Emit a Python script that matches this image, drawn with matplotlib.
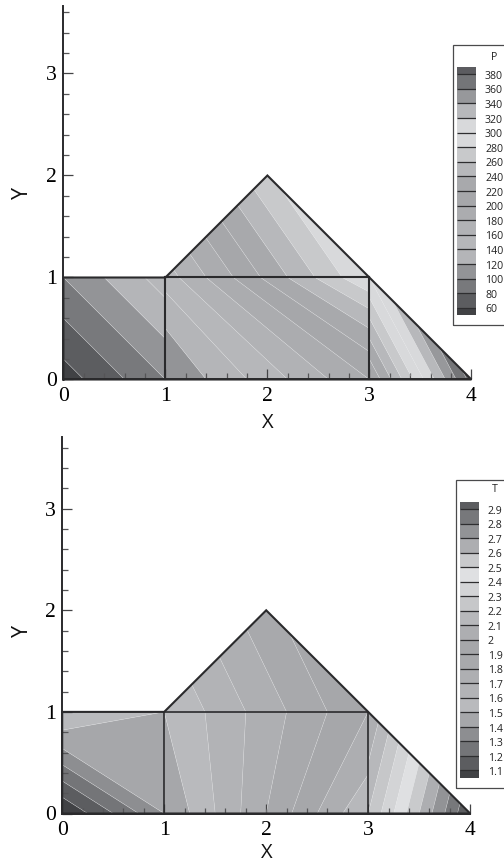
import numpy as np
import matplotlib
matplotlib.use("Agg")
import matplotlib.pyplot as plt
import matplotlib.tri as mtri
from matplotlib.patches import Rectangle
from matplotlib.ticker import MultipleLocator

W, H = 504, 867
DARK = "#2a2a2c"

# mesh nodes: triangular elements, plus one quadrilateral block (1..3 x 0..1)
node_x = [0, 1, 3, 4, 0, 1, 3, 2, 0]
node_y = [0, 0, 0, 0, 1, 1, 1, 2, 0.64]
mesh = [[0, 1, 8], [8, 1, 5], [8, 5, 4], [2, 3, 6], [5, 6, 7]]
quad_nodes = [1, 2, 5, 6]  # lower left, lower right, upper left, upper right

# nodal values
p_values = [50, 100, 200, 388, 100, 150, 300, 277, 82]
t_values = [1.0, 1.4, 2.2, 3.0, 1.6, 1.5, 2.0, 1.87, 1.4]

p_levels = [60, 80, 100, 120, 140, 160, 180, 200, 220, 240, 260, 280, 300, 320, 340, 360, 380]
p_labels = ["60", "80", "100", "120", "140", "160", "180", "200", "220", "240", "260",
            "280", "300", "320", "340", "360", "380"]
p_colors = ["#414245", "#5c5d60", "#78797c", "#939497", "#b4b5b8", "#b6b7ba", "#b1b2b5",
            "#abacaf", "#a6a7aa", "#a8a9ac", "#b7b8bb", "#c8c9cb", "#d8d9db", "#d8d9db",
            "#b7b8bb", "#97989b", "#747578", "#5c5c60"]

t_levels = [1.1, 1.2, 1.3, 1.4, 1.5, 1.6, 1.7, 1.8, 1.9, 2.0, 2.1, 2.2, 2.3, 2.4, 2.5, 2.6, 2.7, 2.8, 2.9]
t_labels = ["1.1", "1.2", "1.3", "1.4", "1.5", "1.6", "1.7", "1.8", "1.9", "2", "2.1",
            "2.2", "2.3", "2.4", "2.5", "2.6", "2.7", "2.8", "2.9"]
t_colors = ["#414245", "#5c5d60", "#747578", "#8d8e91", "#a6a7aa", "#b9babd", "#b2b3b6",
            "#aeafb2", "#a8a9ac", "#a6a7aa", "#adaeb1", "#b7b8bb", "#c6c7c9", "#d3d4d6",
            "#dfe0e2", "#c9cacc", "#adaeb1", "#929396", "#77787b", "#5c5d60"]

# outline of the mesh blocks
outline_x = [[0, 4, 2, 1, 0, 0], [1, 3], [1, 1], [3, 3]]
outline_y = [[0, 0, 2, 1, 1, 0], [1, 1], [0, 1], [0, 1]]

x_ticks = [0, 1, 2, 3, 4]
y_ticks = [0, 1, 2, 3]

fig = plt.figure(figsize=(W / 100, H / 100), dpi=100)


def px_axes(l, t, r, b, **kw):
    return fig.add_axes([l / W, 1 - b / H, (r - l) / W, (b - t) / H], **kw)


def panel(values, levels, colors, labels, title, left, right, y0, top, unit,
          xlab_xy, ylab_xy, box, swatch, lo, hi, label_x, title_xy, lw_inner):
    ax = px_axes(left, top, right, y0)
    ax.set_xlim(0, 4)
    ax.set_ylim(0, (y0 - top) / unit)
    tri = mtri.Triangulation(node_x, node_y, mesh)
    ax.tricontourf(tri, values, levels=levels, colors=colors, extend="both", antialiased=True)
    ax.tricontour(tri, values, levels=levels, colors="#e4e5e7", linewidths=0.35, alpha=0.6)
    # quadrilateral block: iso-lines run straight between the edge crossings of its corner values
    ll, lr, ul, ur = (values[i] for i in quad_nodes)
    x_l, x_r = node_x[quad_nodes[0]], node_x[quad_nodes[1]]
    qx, qy = np.meshgrid(np.linspace(x_l, x_r, 81), np.linspace(0, 1, 41))
    rate_b = (lr - ll) / (x_r - x_l)
    rate_t = (ur - ul) / (x_r - x_l)
    qz = (qx - x_l + (1 - qy) * ll / rate_b + qy * ul / rate_t) / ((1 - qy) / rate_b + qy / rate_t)
    ax.contourf(qx, qy, qz, levels=levels, colors=colors, extend="both", antialiased=True)
    ax.contour(qx, qy, qz, levels=levels, colors="#e4e5e7", linewidths=0.35, alpha=0.6)
    for i, (ox, oy) in enumerate(zip(outline_x, outline_y)):
        ax.plot(ox, oy, color=DARK, lw=1.5 if i == 0 else lw_inner, clip_on=False,
                solid_joinstyle="miter", zorder=4)
    for s in ("top", "right"):
        ax.spines[s].set_visible(False)
    for s in ("left", "bottom"):
        ax.spines[s].set_linewidth(1.4)
        ax.spines[s].set_color(DARK)
        ax.spines[s].set_zorder(5)
    ax.patch.set_alpha(0)
    ax.set_xticks(x_ticks, [str(v) for v in x_ticks], family="Liberation Serif", fontsize=15.6)
    ax.set_yticks(y_ticks, [str(v) for v in y_ticks], family="Liberation Serif", fontsize=15.6)
    ax.xaxis.set_minor_locator(MultipleLocator(0.2))
    ax.yaxis.set_minor_locator(MultipleLocator(0.2))
    ax.tick_params(which="major", direction="in", length=7, width=0.9, color="#444446", pad=5.5, zorder=6)
    ax.tick_params(which="minor", direction="in", length=4.3, width=0.9, color="#555557", zorder=6)
    ax.tick_params(axis="y", which="major", pad=4.5)
    for t_ in ax.get_xticklines(minor=True) + ax.get_yticklines(minor=True) + ax.get_xticklines() + ax.get_yticklines():
        t_.set_zorder(6)
    fig.text(xlab_xy[0] / W, 1 - xlab_xy[1] / H, "X", family="Open Sans", fontsize=14.5,
             ha="center", va="center", color="#111111")
    fig.text(ylab_xy[0] / W, 1 - ylab_xy[1] / H, "Y", family="Open Sans", fontsize=15.5,
             ha="center", va="center", rotation=90, color="#111111")

    # legend frame
    fig.add_artist(Rectangle((box[0] / W, 1 - box[3] / H), (box[2] - box[0]) / W, (box[3] - box[1]) / H,
                             transform=fig.transFigure, fill=False, edgecolor="#4a4a4c", lw=0.9))
    fig.text(title_xy[0] / W, 1 - title_xy[1] / H, title, family="Open Sans", fontsize=7.6,
             ha="center", va="center", color="#222222")
    cax = px_axes(*swatch)
    cax.set_xlim(0, 1)
    cax.set_ylim(lo, hi)
    edges = [lo] + list(levels) + [hi]
    for a, b, c in zip(edges[:-1], edges[1:], colors):
        cax.barh(a, 1, height=b - a, align="edge", color=c, edgecolor="none")
    cax.hlines(levels, 0, 1, color="#2e2e30", lw=0.9)
    cax.axis("off")
    for lev, lab in zip(levels, labels):
        cax.annotate(lab, (1, lev), xycoords=cax.get_yaxis_transform(),
                     xytext=((label_x - swatch[2]) * 0.72, -1.5), textcoords="offset points",
                     family="Open Sans", fontsize=7.6, va="center", ha="left", color="#222222",
                     annotation_clip=False)


panel(p_values, p_levels, p_colors, p_labels, "P",
      left=63.4, right=471.4, y0=379.5, top=6, unit=102,
      xlab_xy=(268, 423), ylab_xy=(22, 193),
      box=(452.8, 45, 510, 325), swatch=(457, 67, 476, 315), lo=50, hi=390,
      label_x=485, title_xy=(494, 57), lw_inner=1.5)

panel(t_values, t_levels, t_colors, t_labels, "T",
      left=62.2, right=470.2, y0=813.5, top=437, unit=101.6,
      xlab_xy=(267, 853), ylab_xy=(23, 631),
      box=(455.8, 480, 510, 788), swatch=(460, 502, 479, 778), lo=1.048, hi=2.95,
      label_x=488, title_xy=(495, 489), lw_inner=1.2)

fig.savefig("out.png", dpi=100)
